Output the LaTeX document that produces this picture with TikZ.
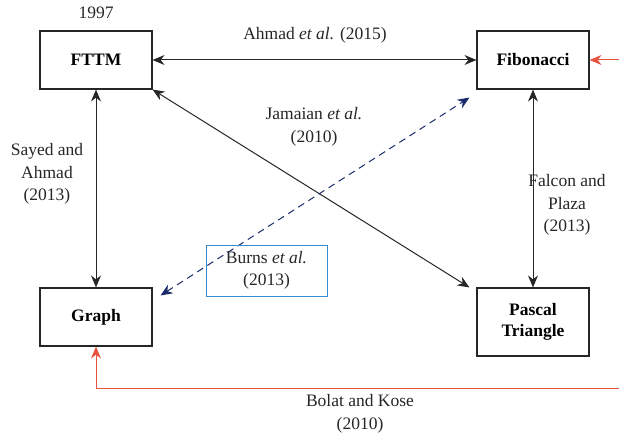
\documentclass[tikz,border=0pt]{standalone}
\usepackage{fontspec}
\setmainfont{Liberation Serif}
\usetikzlibrary{arrows.meta}
\definecolor{redl}{HTML}{E8533F}
\definecolor{navy}{HTML}{1B2A6B}
\definecolor{bluebox}{HTML}{3A8AD0}
\tikzset{
  box/.style={draw=black!85, line width=1.1pt, minimum width=112pt, minimum height=58pt, font=\fontsize{17.5}{21}\selectfont\bfseries, align=center, inner sep=0pt},
  lbl/.style={font=\fontsize{17.5}{22.5}\selectfont, align=center, text=black!85, inner sep=0pt},
  tip/.style={-{Stealth[length=12pt,width=10pt,inset=4pt]}},
  biarrow/.style={{Stealth[length=12pt,width=10pt,inset=4pt]}-{Stealth[length=12pt,width=10pt,inset=4pt]}, line width=1pt, black!85},
}
\begin{document}
\begin{tikzpicture}[x=1pt,y=-1pt]
\useasboundingbox (0,0) rectangle (619,436);
\node[box] (fttm) at (96,60) {FTTM};
\node[box] (fib) at (533,60) {Fibonacci};
\node[box] (graph) at (96,317) {Graph};
\node[box, minimum height=68pt] (pascal) at (533,322) {Pascal\\Triangle};
\node[lbl] (y1997) at (96,13) {1997};
\coordinate (redA) at (619,60);
\coordinate (redB) at (619,388);
\coordinate (redC) at (96,388);
% connectors
\draw[biarrow] (fttm.east) -- (fib.west);
\draw[biarrow] (fttm.south) -- (graph.north);
\draw[biarrow] (fib.south) -- (pascal.north);
\draw[biarrow] (fttm.south east) -- ([xshift=-7pt]pascal.north west);
\draw[navy, line width=1pt, dashed, dash pattern=on 7pt off 5pt,
  {Stealth[length=12pt,width=10pt,inset=4pt]}-{Stealth[length=12pt,width=10pt,inset=4pt]}]
  ([xshift=8pt,yshift=-8pt]graph.north east) -- ([xshift=-7pt,yshift=-8pt]fib.south west);
\draw[redl, line width=1pt, tip] (redA) -- (fib.east);
\draw[redl, line width=1pt, tip] (redB) -- (redC) -- (graph.south);
% labels
\node[lbl] (l1) at (315,35) {Ahmad \textit{et al.} (2015)};
\node[lbl] (l2) at (314,127) {Jamaian \textit{et al.}\\(2010)};
\node[lbl] (l3) at (47,174) {Sayed and\\Ahmad\\(2013)};
\node[lbl] (l4) at (567,205) {Falcon and\\Plaza\\(2013)};
\node[lbl, draw=bluebox, line width=1pt, minimum width=121pt, minimum height=51pt] (l5) at (266.5,270.5) {Burns \textit{et al.}\\(2013)};
\node[lbl] (l6) at (360,414) {Bolat and Kose\\(2010)};
\end{tikzpicture}
\end{document}
